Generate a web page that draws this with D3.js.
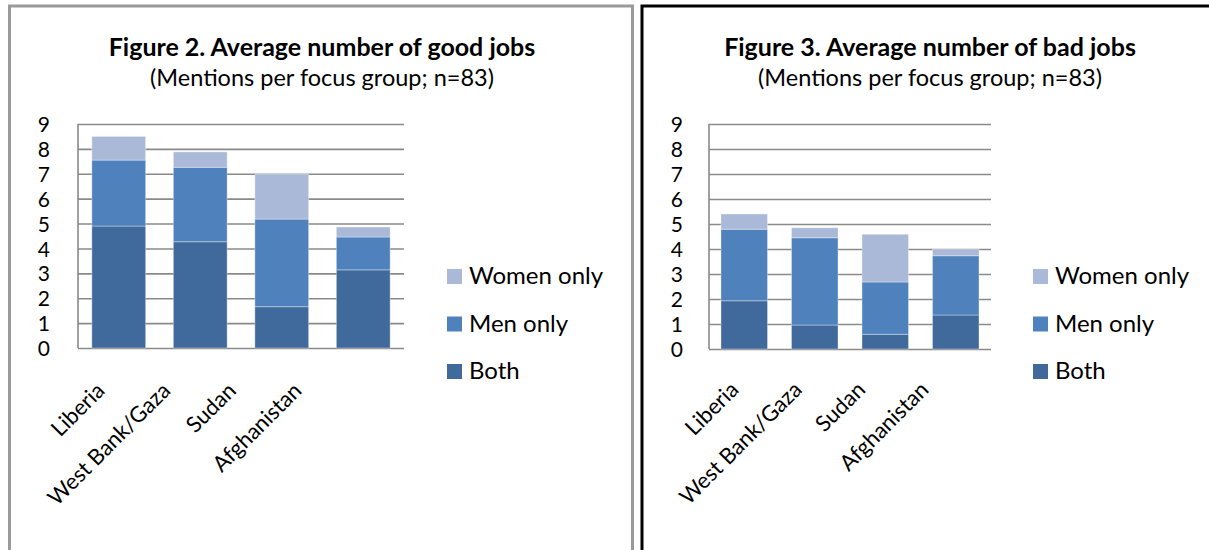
<!DOCTYPE html>
<html>
<head>
<meta charset="utf-8">
<script src="https://cdn.jsdelivr.net/npm/d3@7/dist/d3.min.js"></script>
<style>
  html, body { margin: 0; padding: 0; background: #ffffff; }
  svg { display: block; }
  text { font-family: Lato, "Open Sans", "Liberation Sans", sans-serif; fill: #000; }
</style>
</head>
<body>
<svg id="chart" width="1209" height="550"></svg>
<script>
// Categories and series
const categories = ["Liberia", "West Bank/Gaza", "Sudan", "Afghanistan"];
const seriesNames = ["Both", "Men only", "Women only"];
const legendOrder = ["Women only", "Men only", "Both"];
const yTickValues = [0, 1, 2, 3, 4, 5, 6, 7, 8, 9];

// Figure 2: good jobs (mentions per focus group)
const goodBoth  = [4.90, 4.27, 1.66, 3.14];
const goodMen   = [2.65, 2.99, 3.52, 1.32];
const goodWomen = [0.95, 0.62, 1.81, 0.40];

// Figure 3: bad jobs (mentions per focus group)
const badBoth  = [1.93, 0.96, 0.59, 1.36];
const badMen   = [2.86, 3.49, 2.09, 2.37];
const badWomen = [0.61, 0.40, 1.91, 0.26];

const colors = { "Both": "#416a9c", "Men only": "#4f81bd", "Women only": "#aab9d7" };

const svg = d3.select("#chart");

function buildRows(both, men, women) {
  return categories.map((c, i) => ({ category: c, "Both": both[i], "Men only": men[i], "Women only": women[i] }));
}

function drawPanel(cfg) {
  const g = svg.append("g");

  // panel frame
  g.append("rect")
    .attr("x", cfg.frame.x).attr("y", cfg.frame.y)
    .attr("width", cfg.frame.w).attr("height", cfg.frame.h)
    .attr("fill", "none").attr("stroke", cfg.frame.color).attr("stroke-width", 3);

  // titles
  g.append("text").attr("x", cfg.titleX).attr("y", 56)
    .attr("text-anchor", "middle").style("font-size", "25px").style("font-weight", "bold")
    .text(cfg.title);
  g.append("text").attr("x", cfg.titleX).attr("y", 86)
    .attr("text-anchor", "middle").style("font-size", "23.5px")
    .text("(Mentions per focus group; n=83)");

  const x = d3.scaleBand().domain(categories).range([cfg.x0, cfg.x1]).paddingInner(0.34).paddingOuter(0.17);
  const y = d3.scaleLinear().domain([0, 9]).range([cfg.yBottom, cfg.yTop]);

  // gridlines and value labels
  const yAxis = d3.axisLeft(y).tickValues(yTickValues).tickSize(-(cfg.x1 - cfg.x0)).tickFormat(d3.format("d")).tickPadding(cfg.tickPad);
  const ya = g.append("g").attr("transform", `translate(${cfg.x0},0)`).call(yAxis);
  ya.select(".domain").remove();
  ya.selectAll(".tick line").attr("stroke", "#8a8a8a").attr("stroke-width", 1.6);
  ya.selectAll(".tick text").style("font-size", "21px").attr("dy", "0.36em");

  // vertical axis line
  g.append("line").attr("x1", cfg.x0).attr("x2", cfg.x0)
    .attr("y1", y(9)).attr("y2", y(0)).attr("stroke", "#8a8a8a").attr("stroke-width", 1.6);

  // stacked bars
  const stack = d3.stack().keys(seriesNames)(cfg.rows);
  g.append("g").selectAll("g").data(stack).join("g")
    .attr("fill", d => colors[d.key])
    .selectAll("rect").data(d => d).join("rect")
    .attr("x", d => x(d.data.category))
    .attr("width", x.bandwidth())
    .attr("y", d => y(d[1]))
    .attr("height", d => y(d[0]) - y(d[1]))
    .attr("stroke", "rgba(255,255,255,0.35)").attr("stroke-width", 1);

  // rotated category labels
  const lx = d3.scalePoint().domain(categories).range(cfg.labelRange);
  g.append("g").selectAll("text").data(categories).join("text")
    .attr("transform", d => `translate(${lx(d)},${cfg.labelY}) rotate(-45)`)
    .attr("text-anchor", "end")
    .style("font-size", "22px")
    .text(d => d);

  // legend
  const lg = g.append("g").selectAll("g").data(legendOrder).join("g")
    .attr("transform", (d, i) => `translate(${cfg.legendX},${269 + i * 47.5})`);
  lg.append("rect").attr("width", 15).attr("height", 15).attr("fill", d => colors[d]);
  lg.append("text").attr("x", 22).attr("y", 15).style("font-size", "24px").text(d => d);
}

drawPanel({
  frame: { x: 9.5, y: 6, w: 623, h: 600, color: "#9a9a9a" },
  title: "Figure 2. Average number of good jobs",
  titleX: 322,
  x0: 78, x1: 404, yBottom: 348, yTop: 124, tickPad: 28,
  rows: buildRows(goodBoth, goodMen, goodWomen),
  labelRange: [106, 303], labelY: 392,
  legendX: 447
});

drawPanel({
  frame: { x: 642, y: 6, w: 620, h: 600, color: "#000000" },
  title: "Figure 3. Average number of bad jobs",
  titleX: 930,
  x0: 709, x1: 991, yBottom: 349, yTop: 124, tickPad: 26,
  rows: buildRows(badBoth, badMen, badWomen),
  labelRange: [740, 930], labelY: 391,
  legendX: 1033
});
</script>
</body>
</html>
